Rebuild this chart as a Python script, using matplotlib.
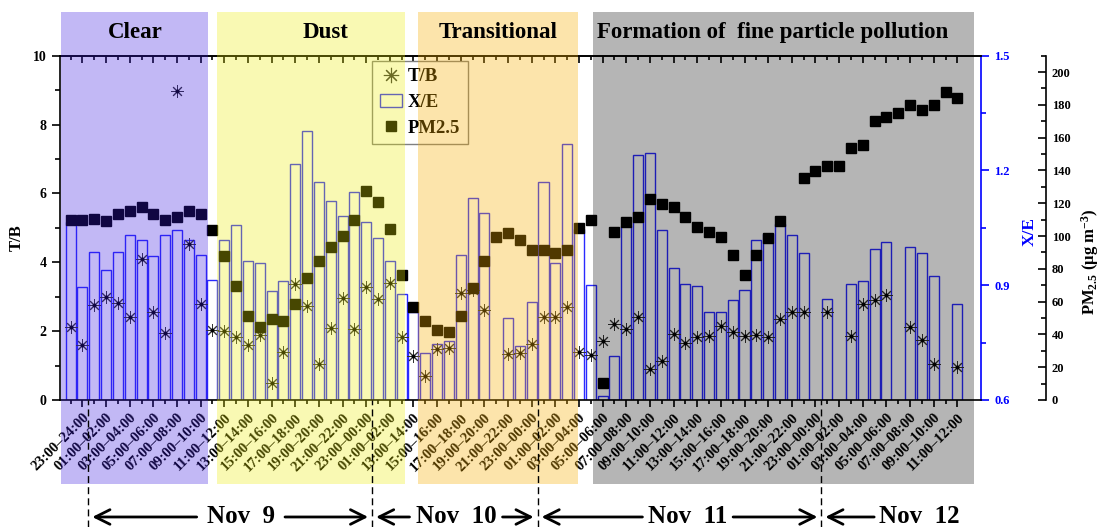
import numpy as np
import matplotlib.pyplot as plt
import matplotlib.transforms as mtransforms
from matplotlib.patches import Rectangle, FancyArrowPatch
from matplotlib.lines import Line2D

plt.rcParams['font.family'] = 'Liberation Serif'
plt.rcParams['font.weight'] = 'bold'
plt.rcParams['axes.labelweight'] = 'bold'
plt.rcParams['mathtext.fontset'] = 'custom'
plt.rcParams['mathtext.rm'] = 'Liberation Serif:bold'
plt.rcParams['mathtext.it'] = 'Liberation Serif:bold:italic'
plt.rcParams['mathtext.bf'] = 'Liberation Serif:bold'
plt.rcParams['axes.linewidth'] = 1.2

nan = np.nan

# hourly values, one per bar slot (gaps = nan)
tb = [2.13, 1.60, 2.76, 3.00, 2.83, 2.42, 4.10, 2.57, 1.94, 8.98, 4.52, 2.78, 2.03,
      2.00, 1.82, 1.60, 1.89, 0.48, 1.38, 3.36, 2.73, 1.05, 2.10, 2.97, 2.06, 3.29,
      2.93, 3.39, 1.84, 1.29, 0.70, 1.48, 1.50, 3.10, 3.19, 2.61, nan, 1.34, 1.37,
      1.63, 2.42, 2.42, 2.69, 1.40, 1.30, 1.71, 2.21, 2.05, 2.42, 0.90, 1.14, 1.91,
      1.65, 1.82, 1.86, 2.16, 1.98, 1.86, 1.88, 1.84, 2.34, 2.55, 2.55, nan, 2.55,
      nan, 1.87, 2.79, 2.90, 3.05, nan, 2.11, 1.74, 1.05, nan, 0.97]
xe = [1.065, 0.896, 0.988, 0.939, 0.987, 1.032, 1.018, 0.976, 1.030, 1.044, 1.017,
      0.978, 0.914, 1.017, 1.058, 0.964, 0.958, 0.885, 0.912, 1.217, 1.304, 1.170,
      1.119, 1.081, 1.144, 1.064, 1.023, 0.964, 0.878, 0.830, 0.722, 0.746, 0.753,
      0.980, 1.128, 1.090, nan, 0.815, 0.742, 0.855, 1.170, 0.958, 1.270, 1.048,
      0.900, 0.611, 0.715, 1.054, 1.241, 1.246, 1.045, 0.944, 0.904, 0.897, 0.829,
      0.829, 0.862, 0.888, 1.019, 1.035, 1.061, 1.030, 0.983, nan, 0.864, nan,
      0.904, 0.911, 0.996, 1.014, nan, 1.000, 0.985, 0.925, nan, 0.850]
pm = [109.7, 109.7, 110.7, 109.4, 113.7, 115.5, 117.6, 113.5, 109.7, 111.5, 115.5,
      113.7, 103.6, 87.9, 69.6, 51.5, 44.7, 49.4, 48.4, 58.4, 74.5, 84.6, 93.6,
      100.3, 109.7, 127.7, 120.6, 104.5, 76.3, 56.6, 48.4, 42.7, 41.3, 51.5, 68.5,
      84.8, 99.7, 101.9, 97.5, 91.5, 91.5, 89.9, 91.5, 104.8, 109.9, 10.6, 102.7,
      108.8, 111.9, 122.9, 119.6, 117.8, 111.5, 105.6, 102.5, 99.5, 88.5, 76.3,
      88.5, 98.7, 109.4, nan, 135.7, 139.8, 142.8, 142.8, 154.0, 155.4, 169.9,
      172.7, 175.0, 179.8, 176.8, 179.8, 188.0, 183.9]

tick_labels = ["23:00–24:00", "01:00–02:00", "03:00–04:00", "05:00–06:00",
               "07:00–08:00", "09:00–10:00", "11:00–12:00", "13:00–14:00",
               "15:00–16:00", "17:00–18:00", "19:00–20:00", "21:00–22:00",
               "23:00–00:00", "01:00–02:00", "13:00–14:00", "15:00–16:00",
               "17:00–18:00", "19:00–20:00", "21:00–22:00", "23:00–00:00",
               "01:00–02:00", "03:00–04:00", "05:00–06:00", "07:00–08:00",
               "09:00–10:00", "11:00–12:00", "13:00–14:00", "15:00–16:00",
               "17:00–18:00", "19:00–20:00", "21:00–22:00", "23:00–00:00",
               "01:00–02:00", "03:00–04:00", "05:00–06:00", "07:00–08:00",
               "09:00–10:00", "11:00–12:00"]
periods = ["Clear", "Dust", "Transitional", "Formation of  fine particle pollution"]
days = ["Nov  9", "Nov  10", "Nov  11", "Nov  12"]

tb = np.array(tb)
xe = np.array(xe)
pm = np.array(pm)
idx = np.arange(len(tb))

fig = plt.figure(figsize=(11, 5.27), dpi=100)
ax = fig.add_axes([0.0545, 0.241, 0.8373, 0.6533])
ax_xe = ax.twinx()
ax_pm = ax.twinx()
ax_xe.set_zorder(1)
ax.set_zorder(2)
ax_pm.set_zorder(3)
for a in (ax, ax_xe, ax_pm):
    a.patch.set_visible(False)

blue = '#2a2aff'
ok = ~np.isnan(xe)
ax_xe.bar(idx[ok], xe[ok] - 0.6, bottom=0.6, width=0.85, facecolor='white',
          edgecolor=blue, linewidth=1.0)
star = (8, 2, 0)
ax.plot(idx, tb, ls='none', marker=star, ms=9, mec='#333333', mew=0.7)
ax.plot(idx, tb, ls='none', marker='o', ms=1.8, color='black')
ax_pm.plot(idx, pm, ls='none', marker='s', ms=6.5, color='black')

ax.set_xlim(-0.9, 77.0)
ax.set_ylim(0, 10)
ax_xe.set_ylim(0.6, 1.5)
ax_pm.set_ylim(0, 210)

# left axis
ax.set_yticks(range(0, 11, 2))
ax.set_yticks(range(1, 10, 2), minor=True)
ax.tick_params(axis='y', which='major', direction='out', length=6, width=1.2, labelsize=10)
ax.tick_params(axis='y', which='minor', direction='out', length=3.5, width=1.2)
ax.set_ylabel('T/B', fontsize=12)
ax.yaxis.set_label_coords(-0.038, 0.473)
ax.spines['right'].set_visible(False)

# bottom/top x ticks
ax.set_xticks(idx[1::2])
ax.set_xticklabels(tick_labels, rotation=45, ha='right', va='top',
                   rotation_mode='anchor', fontsize=10.5)
ax.set_xticks(idx[::2], minor=True)
ax.tick_params(axis='x', which='major', direction='out', length=5, width=1.2, pad=3)
ax.tick_params(axis='x', which='minor', direction='out', length=3, width=1.2)
top = ax.secondary_xaxis('top')
top.set_xticks(idx[1::2])
top.set_xticks(idx[::2], minor=True)
top.tick_params(axis='x', which='major', direction='in', length=5, width=1.2, labeltop=False)
top.tick_params(axis='x', which='minor', direction='in', length=3, width=1.2)

# X/E axis
for s in ('left', 'top', 'bottom'):
    ax_xe.spines[s].set_visible(False)
    ax_pm.spines[s].set_visible(False)
ax_xe.spines['right'].set_color('blue')
ax_xe.set_yticks([0.6, 0.9, 1.2, 1.5])
ax_xe.set_yticks([0.75, 1.05, 1.35], minor=True)
ax_xe.tick_params(axis='y', which='both', colors='blue', direction='out', width=1.2, labelsize=9)
ax_xe.tick_params(axis='y', which='major', length=6)
ax_xe.tick_params(axis='y', which='minor', length=3.5)
ax_xe.set_ylabel('X/E', color='blue', fontsize=12.5)
ax_xe.yaxis.set_label_coords(1.044, 0.49)

# PM2.5 axis
ax_pm.spines['right'].set_position(('outward', 47))
ax_pm.set_yticks(range(0, 201, 20))
ax_pm.set_yticks(range(10, 211, 20), minor=True)
ax_pm.tick_params(axis='y', which='both', direction='in', width=1.2, labelsize=9, pad=4)
ax_pm.tick_params(axis='y', which='major', length=6)
ax_pm.tick_params(axis='y', which='minor', length=3.5)
ax_pm.set_ylabel('PM$_{2.5}$ (μg m$^{-3}$)', fontsize=12)
ax_pm.yaxis.set_label_coords(1.107, 0.40)

handles = [Line2D([], [], ls='none', marker=star, ms=11, mec='#333333', mew=0.8),
           Rectangle((0, 0), 1, 1, fc='white', ec=blue, lw=1.0),
           Line2D([], [], ls='none', marker='s', ms=7, color='black')]
ax_pm.legend(handles, ['T/B', 'X/E', 'PM2.5'], loc='upper left',
             bbox_to_anchor=(0.339, 0.985), borderaxespad=0, fancybox=False,
             edgecolor='gray', fontsize=13.5, handlelength=1.2, handletextpad=0.3,
             borderpad=0.4, labelspacing=0.45, framealpha=1)

# period boxes laid over the plot
trans = mtransforms.blended_transform_factory(ax.transData, fig.transFigure)
spans = [(-0.8, 11.65), (12.4, 28.25), (29.4, 42.9), (44.15, 76.4)]
tints = [(0.216, 0.086, 0.871, 0.30), (0.935, 0.935, 0.02, 0.30),
         (0.965, 0.68, 0.0, 0.33), (0.0, 0.0, 0.0, 0.29)]
title_x = [5.44, 21.6, 36.15, 59.4]
for (x0, x1), c, name, tx in zip(spans, tints, periods, title_x):
    fig.add_artist(Rectangle((x0, 0.0816), x1 - x0, 0.977 - 0.0816, transform=trans,
                             facecolor=c, edgecolor='none', zorder=4))
    fig.text(tx, 0.939, name, transform=trans, ha='center', va='center',
             fontsize=16.5, zorder=5)

# day separators and arrows
for b in [1.5, 25.5, 39.5, 63.5]:
    fig.add_artist(Line2D([b, b], [0, 0.241], transform=trans, color='black',
                          lw=1.0, ls=(0, (5, 3)), zorder=5))
arrows = [(10.9, 1.6), (17.9, 25.4), (28.9, 25.6), (36.3, 39.4),
          (48.6, 39.6), (55.8, 63.4), (68.2, 63.6)]
for x0, x1 in arrows:
    fig.add_artist(FancyArrowPatch((x0, 0.019), (x1, 0.019), transform=trans,
                                   arrowstyle='->,head_length=0.7,head_width=0.35',
                                   mutation_scale=15, lw=2, color='black', zorder=5))
for d, dx in zip(days, [14.4, 32.6, 52.2, 71.8]):
    fig.text(dx, 0.019, d, transform=trans, ha='center', va='center', fontsize=18, zorder=5)

fig.savefig('out.png', dpi=100)
